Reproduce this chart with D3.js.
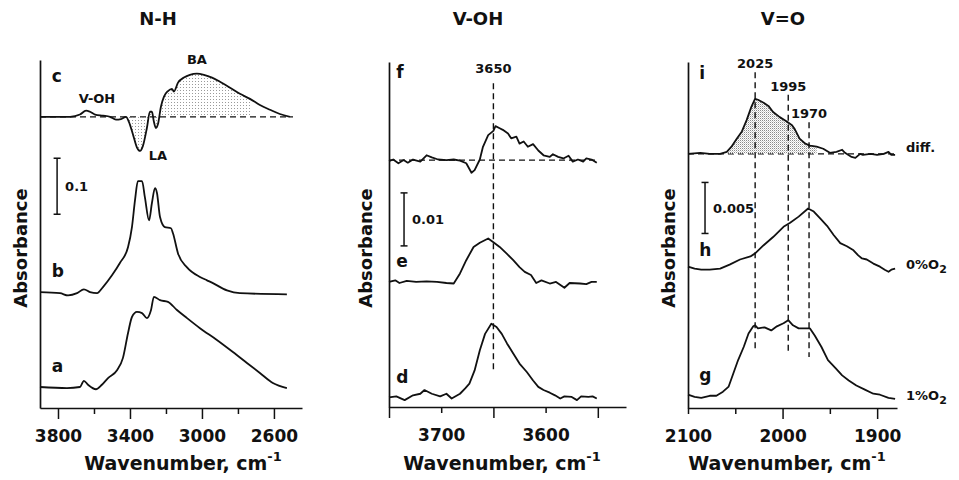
<!DOCTYPE html>
<html><head><meta charset="utf-8">
<script src="https://cdn.jsdelivr.net/npm/d3@7"></script>
<style>
body{margin:0;background:#fff;}
text{font-family:"DejaVu Sans","Liberation Sans",Arial,sans-serif;font-weight:bold;fill:#111;}
</style></head>
<body>
<script>
// ---------- DATA ----------
const panelTitles = ["N-H", "V-OH", "V=O"];
// Panel 1 (N-H region) : [wavenumber, absorbance relative to own baseline]
const nhA = [[3900,0],[3750,-0.002],[3678,0],[3656,0.011],[3633,0.004],[3589,-0.004],[3556,0.004],[3522,0.016],[3472,0.030],[3439,0.052],[3411,0.096],[3389,0.125],[3361,0.134],[3333,0.132],[3306,0.123],[3283,0.1375],[3267,0.161],[3233,0.155],[3189,0.152],[3139,0.1375],[3083,0.123],[3011,0.105],[2917,0.084],[2828,0.0625],[2750,0.043],[2678,0.025],[2606,0.007],[2528,-0.002]];
const nhB = [[3900,0.002],[3789,0],[3744,-0.004],[3694,0],[3656,0.007],[3622,0.002],[3583,0],[3550,0.011],[3500,0.032],[3456,0.054],[3411,0.082],[3389,0.118],[3372,0.166],[3356,0.2],[3333,0.2],[3317,0.171],[3294,0.130],[3278,0.161],[3261,0.1875],[3250,0.179],[3233,0.136],[3206,0.118],[3172,0.116],[3161,0.107],[3133,0.071],[3083,0.046],[3011,0.029],[2972,0.023],[2939,0.018],[2861,0.005],[2789,0],[2528,-0.002]];
const nhC = [[3900,0],[3817,0],[3733,0],[3678,0.004],[3644,0.011],[3622,0.009],[3594,0.004],[3550,0.002],[3511,0],[3478,-0.005],[3450,-0.004],[3422,0],[3406,-0.009],[3383,-0.032],[3361,-0.055],[3344,-0.061],[3328,-0.052],[3306,-0.020],[3289,0.009],[3278,0.009],[3267,-0.009],[3256,-0.020],[3244,-0.0125],[3228,0.018],[3211,0.036],[3189,0.046],[3167,0.05],[3156,0.045],[3133,0.061],[3100,0.070],[3067,0.075],[3028,0.077],[2989,0.075],[2944,0.070],[2900,0.0625],[2844,0.052],[2789,0.041],[2733,0.032],[2678,0.021],[2622,0.0125],[2567,0.005],[2511,0]];
const nhLabels = ["a","b","c"];
const nhOffsets = [0.0375, 0.205, 0.52];
const nhTicks = [3800,3600,3400,3200,3000,2800,2600];
const nhTickLabels = [3800,3400,3000,2600];

// Panel 2 (V-OH region)
const ohD = [[3750,-0.0001],[3743,0.0001],[3735,-0.0006],[3727,0.0003],[3720,0.0006],[3716,0.0013],[3709,0.0006],[3701,0.0001],[3695,0.0006],[3690,-0.0003],[3682,0.0006],[3677,0.0016],[3673,0.0025],[3668,0.0050],[3663,0.0088],[3658,0.0119],[3652,0.0138],[3647,0.0132],[3642,0.0119],[3637,0.0101],[3631,0.0082],[3625,0.0063],[3618,0.0047],[3612,0.0031],[3607,0.0019],[3602,0.0013],[3596,0.0008],[3591,0.0003],[3586,-0.0003],[3582,0.0001],[3575,0],[3570,-0.0006],[3566,0.0001],[3559,0],[3555,0.0001],[3551,-0.0003]];
const ohE = [[3750,0],[3744,0.0003],[3740,-0.0002],[3733,0.0002],[3724,0],[3714,0.0001],[3704,0],[3695,-0.0002],[3688,-0.0003],[3682,0.0016],[3676,0.0041],[3669,0.0066],[3663,0.0074],[3655,0.0082],[3650,0.0075],[3644,0.0066],[3637,0.0053],[3631,0.0041],[3625,0.0028],[3620,0.0019],[3614,0.0013],[3609,-0.0002],[3604,0.0003],[3596,-0.0003],[3590,0],[3582,-0.0011],[3577,-0.0002],[3567,-0.0003],[3561,-0.0004],[3556,0],[3551,0]];
const ohF = [[3750,-0.0002],[3746,0.0001],[3741,-0.0006],[3736,0],[3732,-0.0005],[3727,0.0001],[3720,-0.0003],[3714,0.0009],[3709,0.0005],[3703,0.0001],[3695,0],[3688,0.0001],[3682,-0.0001],[3676,-0.0006],[3671,-0.0024],[3668,-0.0019],[3663,0.0001],[3660,0.0025],[3655,0.0047],[3650,0.0055],[3648,0.0064],[3644,0.006],[3641,0.0057],[3636,0.005],[3633,0.0041],[3628,0.0044],[3625,0.0031],[3621,0.0035],[3617,0.0025],[3612,0.003],[3607,0.0018],[3602,0.0009],[3596,0.0006],[3593,0.0011],[3588,0.0006],[3583,0.0003],[3578,0.0008],[3574,-0.0003],[3569,0.0001],[3564,-0.0003],[3561,0.0003],[3556,0.0001],[3551,-0.0005]];
const ohLabels = ["d","e","f"];
const ohOffsets = [0.0019, 0.0236, 0.0466];
const ohTicks = [3750,3700,3650,3600,3550];
const ohTickLabels = [3700,3600];
const ohLongTicks = [3750,3650,3550];

// Panel 3 (V=O region)
const voG = [[2100,0.0002],[2093,0],[2086,-0.0001],[2077,0.0001],[2070,0.0001],[2063,0.0005],[2057,0.0010],[2052,0.0023],[2047,0.0036],[2041,0.0049],[2036,0.0062],[2031,0.0069],[2029,0.0070],[2026,0.0067],[2019,0.0068],[2012,0.0065],[2006,0.0069],[1999,0.0072],[1994,0.0075],[1989,0.0070],[1983,0.0067],[1978,0.0067],[1971,0.0067],[1966,0.0060],[1959,0.0049],[1952,0.0036],[1944,0.0028],[1937,0.0021],[1930,0.0016],[1922,0.0011],[1913,0.0007],[1904,0.0003],[1897,0.0002],[1888,-0.0001],[1881,-0.0002]];
const voH = [[2100,0],[2093,-0.0002],[2086,-0.0003],[2077,-0.0003],[2066,-0.0002],[2056,0.0002],[2045,0.0007],[2034,0.0010],[2029,0.0013],[2020,0.0021],[2010,0.0029],[1999,0.0039],[1992,0.0043],[1983,0.0049],[1973,0.0057],[1967,0.0054],[1960,0.0047],[1953,0.0040],[1946,0.0031],[1939,0.0023],[1932,0.0020],[1925,0.0016],[1920,0.0011],[1916,0.0008],[1911,0.0007],[1904,0.0003],[1897,0],[1892,-0.0003],[1888,-0.0005],[1885,-0.0003],[1881,-0.0002]];
const voI = [[2100,0],[2087,0.0001],[2077,0],[2066,0],[2059,0.0002],[2054,0.0007],[2049,0.0014],[2043,0.0022],[2038,0.0033],[2033,0.0046],[2029,0.0054],[2026,0.0053],[2020,0.0050],[2015,0.0047],[2010,0.0041],[2003,0.0036],[1996,0.0032],[1990,0.0028],[1987,0.0024],[1982,0.0015],[1976,0.0010],[1971,0.0008],[1964,0.0007],[1957,0.0005],[1950,0.0001],[1943,0.0002],[1937,0.0004],[1934,0.0001],[1927,-0.0003],[1923,-0.0004],[1918,0],[1915,-0.0001],[1907,0],[1900,-0.0001],[1893,0],[1888,0.0002],[1885,-0.0001],[1881,-0.0001]];
const voLabels = ["g","h","i"];
const voRightLabels = ["1%O", "0%O", "diff."];
const voOffsets = [0.0011, 0.01385, 0.0249];
const voTicks = [2100,2050,2000,1950,1900];
const voTickLabels = [2100,2000,1900];
const voLongTicks = [2000,1900];
const voPeakW = [2029, 1994, 1972];
const voPeakLabels = ["2025","1995","1970"];
const voPeakTop = [0.0329, 0.0307, 0.0280];
const voPeakBottom = [0.0057, 0.0054, 0.0050];

// ---------- DRAWING ----------
const W = 959, H = 480;
const FONT = '"DejaVu Sans","Liberation Sans",Arial,sans-serif';
const svg = d3.select("body").append("svg").attr("width", W).attr("height", H);
const defs = svg.append("defs");
const p1 = defs.append("pattern").attr("id","dotsLight").attr("width",3).attr("height",3).attr("patternUnits","userSpaceOnUse");
p1.append("rect").attr("x",0).attr("y",0).attr("width",1).attr("height",1).attr("fill","#9a9a9a");
const p2 = defs.append("pattern").attr("id","dotsDark").attr("width",2).attr("height",2).attr("patternUnits","userSpaceOnUse");
p2.append("rect").attr("x",0).attr("y",0).attr("width",1).attr("height",1).attr("fill","#8a8a8a");
p2.append("rect").attr("x",1).attr("y",1).attr("width",1).attr("height",1).attr("fill","#d0d0d0");

const panels = [
  {title: panelTitles[0], titleX: 158, xDomain:[3900,2444], xRange:[40,302], yDomain:[0,0.6214], yRange:[408,60],
   curves:[nhA,nhB,nhC], labels:nhLabels, offsets:nhOffsets, ticks:nhTicks, tickLabels:nhTickLabels, longTicks:nhTickLabels,
   curveType:d3.curveMonotoneX, axisLabelX:183, yTitleX:27, labelW:3835,
   labelDy:[-15,-16,-35], scale:{w:3805, bottom:0.346, len:0.1, text:"0.1"}, baseline:{idx:2, from:3900, to:2494}},
  {title: panelTitles[1], titleX: 478, xDomain:[3750,3523], xRange:[389,626], yDomain:[0,0.0651], yRange:[407,62],
   curves:[ohD,ohE,ohF], labels:ohLabels, offsets:ohOffsets, ticks:ohTicks, tickLabels:ohTickLabels, longTicks:ohLongTicks,
   curveType:d3.curveLinear, axisLabelX:502, yTitleX:372, labelW:3743,
   labelDy:[-14,-15,-82], scale:{w:3735.6, bottom:0.0304, len:0.01, text:"0.01"}, baseline:{idx:2, from:3750, to:3551}},
  {title: panelTitles[2], titleX: 783, xDomain:[2100,1879], xRange:[688,897], yDomain:[0,0.0339], yRange:[408,62],
   curves:[voG,voH,voI], labels:voLabels, offsets:voOffsets, ticks:voTicks, tickLabels:voTickLabels, longTicks:voLongTicks,
   curveType:d3.curveLinear, axisLabelX:787, yTitleX:675, labelW:2088,
   labelDy:[-16,-11,-75], scale:{w:2082, bottom:0.0171, len:0.005, text:"0.005"}, baseline:{idx:2, from:2100, to:1881}}
];

panels.forEach((p, pi) => {
  const g = svg.append("g");
  const x = d3.scaleLinear().domain(p.xDomain).range(p.xRange);
  const y = d3.scaleLinear().domain(p.yDomain).range(p.yRange);

  // title
  g.append("text").attr("x", p.titleX).attr("y", 25).attr("text-anchor","middle").attr("font-size",18).text(p.title);

  // y axis line (no ticks)
  const yAx = d3.axisLeft(y).tickValues([]).tickSizeOuter(0);
  g.append("g").attr("transform", `translate(${p.xRange[0]},0)`).call(yAx)
    .call(s => s.select(".domain").attr("stroke","#111").attr("stroke-width",1.7));

  // x axis
  const xAx = d3.axisBottom(x).tickValues(p.ticks).tickSizeOuter(0)
    .tickFormat(d => p.tickLabels.includes(d) ? d : "");
  const ax = g.append("g").attr("transform", `translate(0,${p.yRange[0]})`).call(xAx);
  ax.select(".domain").attr("stroke","#111").attr("stroke-width",1.7);
  ax.selectAll(".tick line").attr("stroke","#111").attr("stroke-width",1.5)
    .attr("y2", d => p.longTicks.includes(d) ? 11 : 6);
  ax.selectAll(".tick text").attr("y", 22).attr("dy","0.71em")
    .attr("font-size",17).attr("font-family",FONT).attr("font-weight","bold").attr("fill","#111");

  // axis titles
  const xt = g.append("text").attr("x", p.axisLabelX).attr("y", 470).attr("text-anchor","middle").attr("font-size",19);
  xt.append("tspan").text("Wavenumber, cm");
  xt.append("tspan").attr("dy",-9).attr("font-size",13).text("-1");
  g.append("text").attr("transform", `translate(${p.yTitleX},248) rotate(-90)`).attr("text-anchor","middle")
    .attr("font-size",18).text("Absorbance");

  // baseline dashed for difference spectrum
  const bIdx = p.baseline.idx;
  g.append("line").attr("x1", x(p.baseline.from)).attr("x2", x(p.baseline.to))
    .attr("y1", y(p.offsets[bIdx])).attr("y2", y(p.offsets[bIdx]))
    .attr("stroke","#111").attr("stroke-width",1.3).attr("stroke-dasharray","6,4");

  // stippled fills
  if (pi === 0) {
    const pts = nhC.filter(d => d[0] <= 3410 && d[0] >= 2720);
    const area = d3.area().x(d => x(d[0])).y0(y(nhOffsets[2])).y1(d => y(d[1] + nhOffsets[2])).curve(d3.curveMonotoneX);
    g.append("path").datum(pts).attr("d", area).attr("fill","url(#dotsLight)");
  }
  if (pi === 2) {
    const pts = voI.filter(d => d[0] <= 2059 && d[0] >= 1964);
    const area = d3.area().x(d => x(d[0])).y0(y(voOffsets[2])).y1(d => y(d[1] + voOffsets[2]));
    g.append("path").datum(pts).attr("d", area).attr("fill","url(#dotsDark)");
  }

  // curves
  p.curves.forEach((c, ci) => {
    const off = p.offsets[ci];
    const line = d3.line().x(d => x(d[0])).y(d => y(d[1] + off)).curve(p.curveType);
    g.append("path").datum(c).attr("d", line).attr("fill","none").attr("stroke","#111")
      .attr("stroke-width",1.8).attr("stroke-linejoin","round");
    g.append("text").attr("x", x(p.labelW)).attr("y", y(off) + p.labelDy[ci])
      .attr("font-size",17).text(p.labels[ci]);
  });

  // scale bar
  const sb = p.scale;
  const sx = x(sb.w), sy0 = y(sb.bottom), sy1 = y(sb.bottom + sb.len);
  g.append("line").attr("x1",sx).attr("x2",sx).attr("y1",sy0).attr("y2",sy1).attr("stroke","#111").attr("stroke-width",1.5);
  [sy0, sy1].forEach(v => g.append("line").attr("x1",sx-3.5).attr("x2",sx+3.5).attr("y1",v).attr("y2",v).attr("stroke","#111").attr("stroke-width",1.5));
  g.append("text").attr("x", sx + 8).attr("y", (sy0+sy1)/2 + 5).attr("font-size",13).text(sb.text);

  // panel-specific annotations
  if (pi === 0) {
    const off = nhOffsets[2];
    g.append("text").attr("x", x(3583)).attr("y", y(off + 0.024)).attr("text-anchor","middle").attr("font-size",13).text("V-OH");
    g.append("text").attr("x", x(3028)).attr("y", y(off + 0.095)).attr("text-anchor","middle").attr("font-size",13).text("BA");
    g.append("text").attr("x", x(3245)).attr("y", y(off - 0.077)).attr("text-anchor","middle").attr("font-size",13).text("LA");
  }
  if (pi === 1) {
    g.append("line").attr("x1",x(3650)).attr("x2",x(3650)).attr("y1",y(0.0611)).attr("y2",y(0.0070))
      .attr("stroke","#111").attr("stroke-width",1.4).attr("stroke-dasharray","6,4");
    g.append("text").attr("x", x(3650)).attr("y", y(0.0611) - 10).attr("text-anchor","middle").attr("font-size",13).text("3650");
  }
  if (pi === 2) {
    voPeakW.forEach((w, k) => {
      g.append("line").attr("x1",x(w)).attr("x2",x(w)).attr("y1",y(voPeakTop[k])).attr("y2",y(voPeakBottom[k]))
        .attr("stroke","#111").attr("stroke-width",1.4).attr("stroke-dasharray","6,4");
      g.append("text").attr("x", x(w)).attr("y", y(voPeakTop[k]) - 4).attr("text-anchor","middle").attr("font-size",13).text(voPeakLabels[k]);
    });
    const rdy = [3, 2, -2];
    voRightLabels.forEach((t, k) => {
      const tx = g.append("text").attr("x", 906).attr("y", y(voOffsets[k]) + rdy[k]).attr("font-size",13);
      tx.append("tspan").text(t);
      if (k < 2) tx.append("tspan").attr("dy",4).attr("font-size",11).text("2");
    });
  }
});
</script>
</body></html>
